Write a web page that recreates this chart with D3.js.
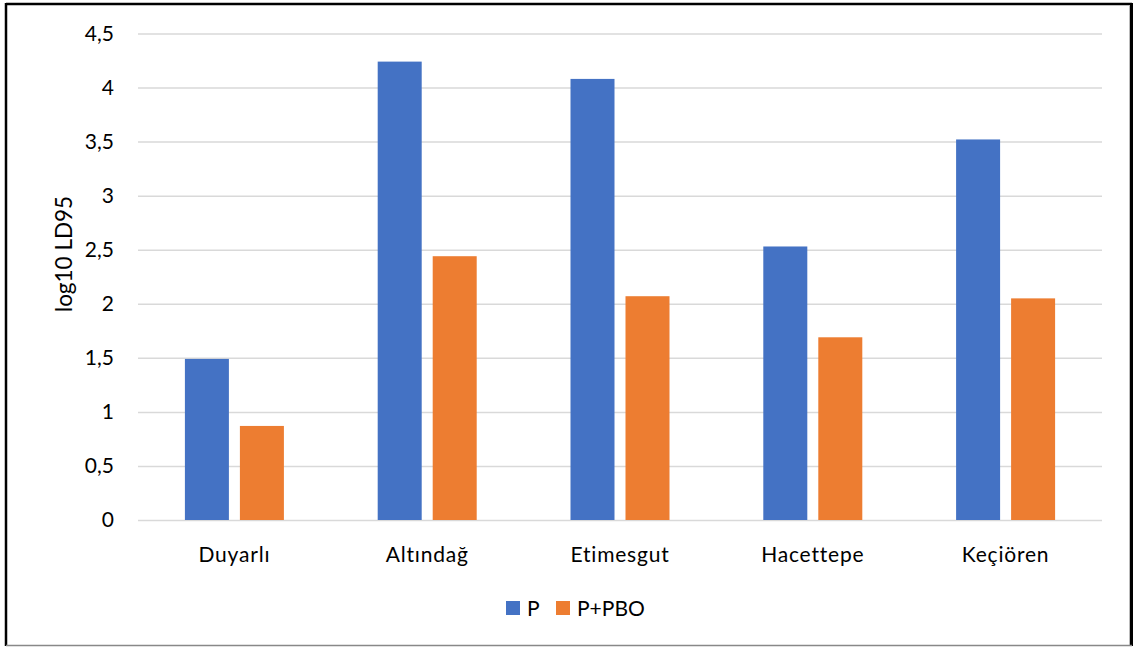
<!DOCTYPE html>
<html>
<head>
<meta charset="utf-8">
<script src="https://cdn.jsdelivr.net/npm/d3@7"></script>
<style>
  html, body { margin: 0; padding: 0; background: #fff; }
  svg { display: block; }
  text { font-family: Lato, "Open Sans", sans-serif; fill: #000; }
</style>
</head>
<body>
<svg id="chart" width="1136" height="647"></svg>
<script>
// Log10 LD95 values per population, with and without PBO synergist
const categories = ["Duyarlı", "Altındağ", "Etimesgut", "Hacettepe", "Keçiören"];
const seriesNames = ["P", "P+PBO"];
const pValues = [1.49, 4.24, 4.08, 2.53, 3.52];
const pboValues = [0.87, 2.44, 2.07, 1.69, 2.05];
const seriesColors = ["#4472C4", "#ED7D31"];
const yTicks = [0, 0.5, 1, 1.5, 2, 2.5, 3, 3.5, 4, 4.5];
const yTickLabels = ["0", "0,5", "1", "1,5", "2", "2,5", "3", "3,5", "4", "4,5"];
const yTitle = "log10 LD95";

const seriesValues = [pValues, pboValues];
const rows = categories.map((c, i) => ({
  category: c,
  values: seriesNames.map((s, j) => ({ series: s, value: seriesValues[j][i], color: seriesColors[j] }))
}));

const svg = d3.select("#chart");
const plot = { left: 138, right: 1102, top: 33.5, bottom: 520 };

const x = d3.scaleBand()
  .domain(categories)
  .range([plot.left, plot.right])
  .paddingInner(0.4865)
  .paddingOuter(0.24325);

const x1 = d3.scaleBand()
  .domain(seriesNames)
  .range([0, x.bandwidth()])
  .paddingInner(0.2);

const y = d3.scaleLinear().domain([0, 4.5]).range([plot.bottom, plot.top]);

// Outer frame
const frame = svg.append("g");
frame.append("line").attr("x1", 6).attr("x2", 1132).attr("y1", 4).attr("y2", 4)
  .attr("stroke", "#000").attr("stroke-width", 2.5);
frame.append("line").attr("x1", 6).attr("x2", 6).attr("y1", 3).attr("y2", 646)
  .attr("stroke", "#000").attr("stroke-width", 2.5);
frame.append("line").attr("x1", 1131.5).attr("x2", 1131.5).attr("y1", 3).attr("y2", 646)
  .attr("stroke", "#000").attr("stroke-width", 3);
frame.append("line").attr("x1", 1129.5).attr("x2", 1129.5).attr("y1", 5).attr("y2", 645)
  .attr("stroke", "#bbb").attr("stroke-width", 1);
frame.append("line").attr("x1", 6).attr("x2", 1132).attr("y1", 645.5).attr("y2", 645.5)
  .attr("stroke", "#888").attr("stroke-width", 1.5);

// Horizontal gridlines
svg.append("g")
  .attr("transform", `translate(${plot.left},0)`)
  .call(d3.axisLeft(y).tickValues(yTicks).tickSize(-(plot.right - plot.left)).tickFormat(""))
  .call(g => g.select(".domain").remove())
  .call(g => g.selectAll(".tick line").attr("stroke", "#d9d9d9").attr("stroke-width", 1.5));

// Y tick labels
svg.append("g")
  .attr("transform", `translate(${plot.left},0)`)
  .call(d3.axisLeft(y).tickValues(yTicks).tickSize(0).tickPadding(24)
    .tickFormat((d, i) => yTickLabels[i]))
  .call(g => g.select(".domain").remove())
  .call(g => g.selectAll(".tick text")
    .attr("font-family", "Lato, 'Open Sans', sans-serif")
    .attr("font-size", 21).attr("fill", "#000"));

// Y axis title
svg.append("text")
  .attr("transform", `translate(72,254) rotate(-90)`)
  .attr("text-anchor", "middle")
  .attr("font-size", 22.5)
  .text(yTitle);

// Bars
const groups = svg.append("g").selectAll("g")
  .data(rows).join("g")
  .attr("transform", d => `translate(${x(d.category)},0)`);

groups.selectAll("rect")
  .data(d => d.values).join("rect")
  .attr("x", d => x1(d.series))
  .attr("width", x1.bandwidth())
  .attr("y", d => y(d.value))
  .attr("height", d => y(0) - y(d.value))
  .attr("fill", d => d.color);

// Category labels
svg.append("g").selectAll("text")
  .data(categories).join("text")
  .attr("x", d => x(d) + x.bandwidth() / 2)
  .attr("y", 562)
  .attr("text-anchor", "middle")
  .attr("font-size", 21)
  .attr("letter-spacing", 0.8)
  .text(d => d);

// Legend
const legendItems = [
  { name: seriesNames[0], color: seriesColors[0], x: 506 },
  { name: seriesNames[1], color: seriesColors[1], x: 556 }
];
const legend = svg.append("g");
legend.selectAll("rect").data(legendItems).join("rect")
  .attr("x", d => d.x).attr("y", 601).attr("width", 14).attr("height", 14)
  .attr("fill", d => d.color);
legend.selectAll("text").data(legendItems).join("text")
  .attr("x", d => d.x + 21).attr("y", 615.5)
  .attr("font-size", 21)
  .text(d => d.name);
</script>
</body>
</html>
